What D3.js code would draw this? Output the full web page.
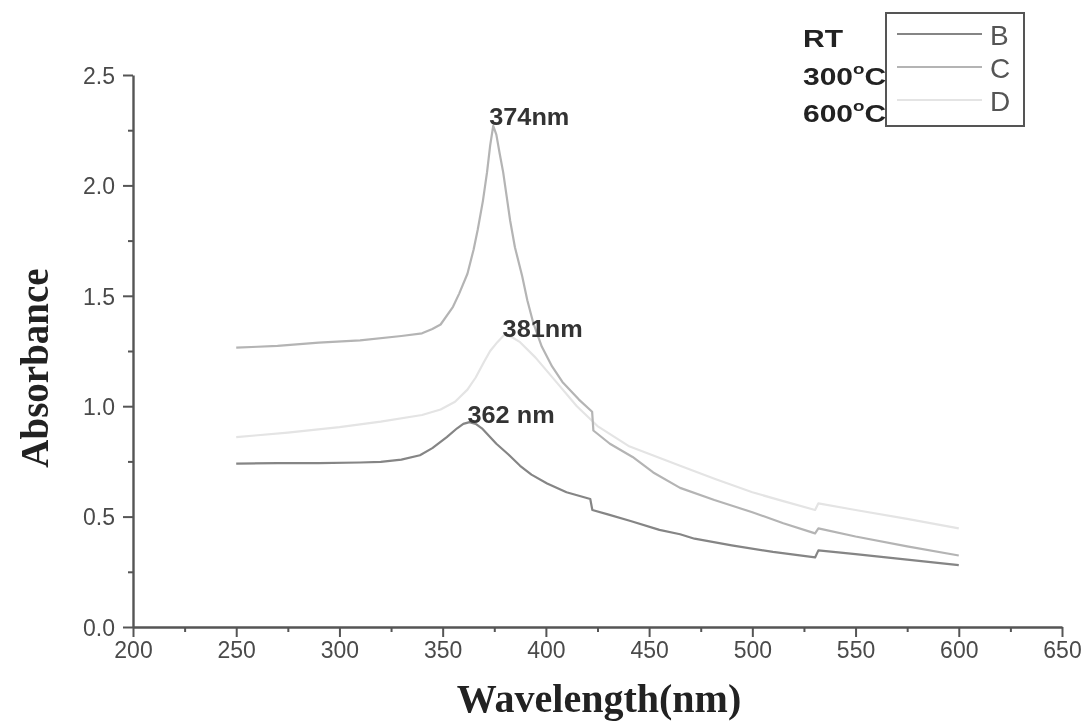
<!DOCTYPE html>
<html>
<head>
<meta charset="utf-8">
<script src="https://cdn.jsdelivr.net/npm/d3@7"></script>
<style>
  body { margin: 0; background: #fff; }
  svg { display: block; }
</style>
</head>
<body>
<div id="chart"></div>
<script>
// UV-vis absorbance spectra
var nmB = [250, 270, 290, 310, 320, 330, 339, 345, 352, 357, 360, 363, 366, 369, 376, 382, 387.5, 393, 400.6, 410, 421.5, 422.5, 430, 441, 455, 465, 472, 490, 510, 530.4, 532, 550, 575, 600];
var absB = [0.74, 0.742, 0.742, 0.745, 0.748, 0.758, 0.778, 0.81, 0.86, 0.90, 0.92, 0.928, 0.92, 0.90, 0.83, 0.78, 0.73, 0.69, 0.65, 0.61, 0.58, 0.53, 0.51, 0.48, 0.44, 0.42, 0.40, 0.37, 0.34, 0.315, 0.347, 0.33, 0.305, 0.28];

var nmC = [250, 270, 290, 310, 330, 340, 345, 349, 355, 358, 362, 365, 367, 369.5, 371.5, 373, 374.5, 376, 377.5, 379.3, 381, 382.7, 385, 388.5, 391, 393.8, 398, 403, 408, 416, 422.4, 423, 431, 442, 452, 465, 481.6, 500, 515, 530.4, 532, 550, 575, 600];
var absC = [1.265, 1.273, 1.288, 1.298, 1.318, 1.33, 1.35, 1.37, 1.45, 1.51, 1.60, 1.71, 1.80, 1.93, 2.06, 2.18, 2.27, 2.23, 2.15, 2.06, 1.95, 1.84, 1.72, 1.59, 1.48, 1.38, 1.27, 1.18, 1.11, 1.03, 0.975, 0.89, 0.83, 0.77, 0.70, 0.63, 0.575, 0.52, 0.47, 0.424, 0.447, 0.41, 0.365, 0.324];

var nmD = [250, 275, 300, 320, 340, 349, 356, 362, 366, 370, 373, 376.5, 380, 384, 387.5, 395, 405, 415, 425, 440, 465, 482, 500, 515, 530.4, 532, 550, 575, 600];
var absD = [0.86, 0.88, 0.905, 0.93, 0.96, 0.985, 1.02, 1.075, 1.13, 1.20, 1.25, 1.29, 1.325, 1.31, 1.29, 1.22, 1.11, 1.00, 0.91, 0.82, 0.73, 0.67, 0.61, 0.57, 0.53, 0.56, 0.53, 0.49, 0.447];

var seriesNames = ["B", "C", "D"];
var sampleNames = ["RT", "300", "600"];
var seriesColors = ["#858585", "#b4b4b4", "#e4e4e4"];

var peakLabels = ["374nm", "381nm", "362 nm"];
var peakNm = [374.5, 380, 363];
var peakAbs = [2.27, 1.325, 0.928];

var xTicks = [200, 250, 300, 350, 400, 450, 500, 550, 600, 650];
var yTicks = [0.0, 0.5, 1.0, 1.5, 2.0, 2.5];

var width = 1092, height = 722;
var margin = {top: 75, bottom: 627, left: 133, right: 1062};

var svg = d3.select("#chart").append("svg")
    .attr("width", width)
    .attr("height", height)
    .style("filter", "blur(0.45px)");

var x = d3.scaleLinear().domain([200, 650]).range([margin.left, margin.right]);
var y = d3.scaleLinear().domain([0, 2.5]).range([margin.bottom, margin.top]);

var sans = "'Liberation Sans', Arial, sans-serif";
var serif = "'Liberation Serif', 'Times New Roman', serif";

// minor ticks first
svg.append("g")
    .attr("transform", "translate(0," + margin.bottom + ")")
    .call(d3.axisBottom(x).tickValues(d3.range(225, 650, 50)).tickSize(5).tickFormat(""))
    .call(function(g) { g.select(".domain").remove(); })
    .selectAll("line").attr("stroke", "#555").attr("stroke-width", 2);

svg.append("g")
    .attr("transform", "translate(" + margin.left + ",0)")
    .call(d3.axisLeft(y).tickValues([0.25, 0.75, 1.25, 1.75, 2.25]).tickSize(5).tickFormat(""))
    .call(function(g) { g.select(".domain").remove(); })
    .selectAll("line").attr("stroke", "#555").attr("stroke-width", 2);

var xAxis = svg.append("g")
    .attr("transform", "translate(0," + margin.bottom + ")")
    .call(d3.axisBottom(x).tickValues(xTicks).tickSize(10).tickSizeOuter(0).tickPadding(5).tickFormat(d3.format("d")));

var yAxis = svg.append("g")
    .attr("transform", "translate(" + margin.left + ",0)")
    .call(d3.axisLeft(y).tickValues(yTicks).tickSize(10).tickSizeOuter(0).tickPadding(8).tickFormat(d3.format(".1f")));

[xAxis, yAxis].forEach(function(g) {
    g.select(".domain").attr("stroke", "#555").attr("stroke-width", 2.4);
    g.selectAll(".tick line").attr("stroke", "#555").attr("stroke-width", 2);
    g.selectAll(".tick text")
        .attr("fill", "#4a4a4a")
        .style("font-family", sans)
        .style("font-size", "23px");
});
yAxis.selectAll(".tick text").attr("dy", "0.36em");

// axis titles
svg.append("text")
    .attr("x", 599).attr("y", 712)
    .attr("text-anchor", "middle")
    .attr("fill", "#222")
    .style("font-family", serif)
    .style("font-weight", "bold")
    .style("font-size", "40px")
    .text("Wavelength(nm)");

svg.append("text")
    .attr("transform", "translate(48,368) rotate(-90)")
    .attr("text-anchor", "middle")
    .attr("fill", "#222")
    .style("font-family", serif)
    .style("font-weight", "bold")
    .style("font-size", "39px")
    .text("Absorbance");

// spectra
var line = d3.line()
    .x(function(d) { return x(d[0]); })
    .y(function(d) { return y(d[1]); });

var spectra = [d3.zip(nmB, absB), d3.zip(nmC, absC), d3.zip(nmD, absD)];

// draw lightest first so darker curves sit on top
[2, 1, 0].forEach(function(i) {
    svg.append("path")
        .datum(spectra[i])
        .attr("fill", "none")
        .attr("stroke", seriesColors[i])
        .attr("stroke-width", 2.2)
        .attr("stroke-linejoin", "round")
        .attr("d", line);
});

// peak labels (slightly wide in the original)
var labelDx = [-4, -2, -2];
var labelDy = [-1, 3, 1];
peakLabels.forEach(function(t, i) {
    svg.append("text")
        .attr("transform", "translate(" + (x(peakNm[i]) + labelDx[i]) + "," + (y(peakAbs[i]) + labelDy[i]) + ") scale(1.1,1)")
        .attr("fill", "#333")
        .style("font-family", sans)
        .style("font-weight", "bold")
        .style("font-size", "23px")
        .text(t);
});

// legend
var legend = svg.append("g");
legend.append("rect")
    .attr("x", 886).attr("y", 13)
    .attr("width", 138).attr("height", 113)
    .attr("fill", "none")
    .attr("stroke", "#555")
    .attr("stroke-width", 2);

var legendY = d3.scalePoint().domain(seriesNames).range([34, 100]);
var sampleY = [47, 85, 122];

seriesNames.forEach(function(name, i) {
    var ly = legendY(name);
    legend.append("line")
        .attr("x1", 897).attr("x2", 982)
        .attr("y1", ly).attr("y2", ly)
        .attr("stroke", seriesColors[i])
        .attr("stroke-width", 2);
    legend.append("text")
        .attr("x", 990).attr("y", ly + 11)
        .attr("fill", "#555")
        .style("font-family", sans)
        .style("font-size", "28px")
        .text(name);

    var lab = legend.append("text")
        .attr("transform", "translate(803," + sampleY[i] + ") scale(1.25,1)")
        .attr("fill", "#222")
        .style("font-family", sans)
        .style("font-weight", "bold")
        .style("font-size", "24px");
    if (i === 0) {
        lab.text(sampleNames[i]);
    } else {
        lab.append("tspan").text(sampleNames[i]);
        lab.append("tspan").attr("dy", -11).style("font-size", "15px").text("o");
        lab.append("tspan").attr("dy", 11).text("C");
    }
});
</script>
</body>
</html>
